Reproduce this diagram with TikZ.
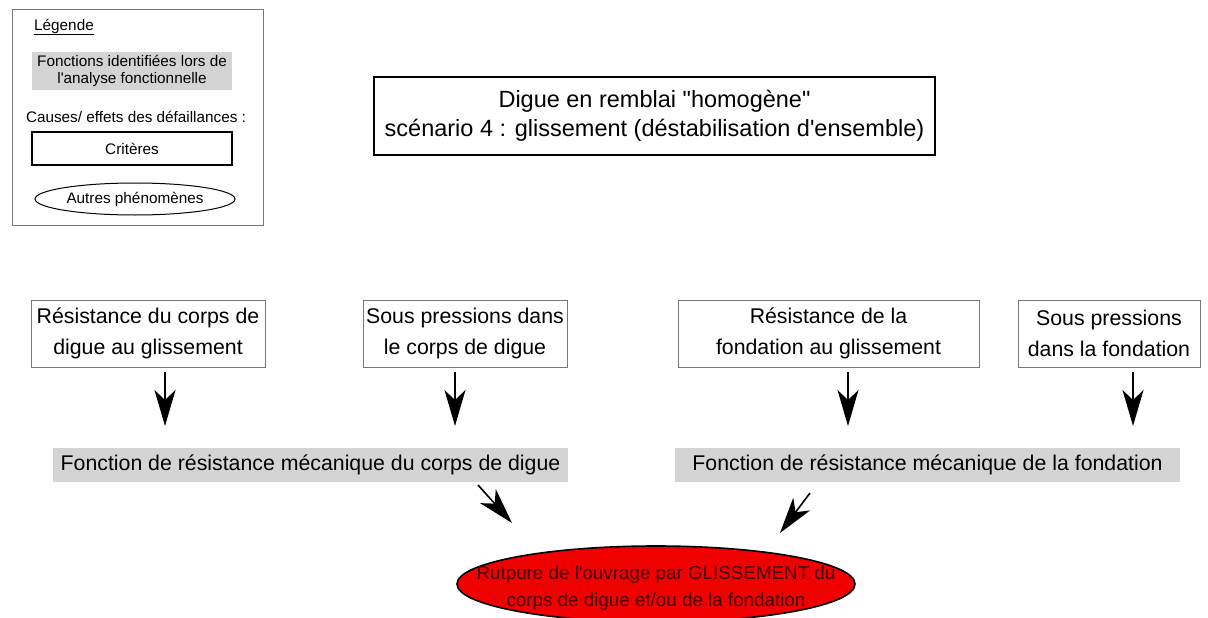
\documentclass[tikz,border=0pt]{standalone}
\usepackage{fontspec}
\setmainfont{Liberation Sans}
\newfontfamily\plainsans{Liberation Sans}
\usetikzlibrary{shapes.geometric,arrows.meta}
\definecolor{boxgray}{RGB}{212,212,212}
\definecolor{edgegray}{RGB}{120,120,120}
\definecolor{alarm}{RGB}{240,0,0}
\definecolor{darkred}{RGB}{70,0,0}
\tikzset{
  critbox/.style={draw=edgegray, line width=1pt, align=center, inner sep=0pt,
    font=\plainsans\fontsize{21.3}{30.5}\selectfont},
  funcbar/.style={fill=boxgray, inner sep=0pt, minimum height=34pt,
    font=\plainsans\fontsize{21.3}{25}\selectfont},
  legtext/.style={inner sep=0pt, font=\plainsans\fontsize{15.3}{16.5}\selectfont},
  bigarrow/.style={line width=1.6pt, -{Stealth[length=36pt,width=21pt,inset=10pt]}},
}
\begin{document}
\begin{tikzpicture}[x=1pt,y=-1pt]
\useasboundingbox (0,0) rectangle (1208,618);
% legend
\node[draw=edgegray, line width=1pt, minimum width=251pt, minimum height=215pt, inner sep=0pt] (legend) at (137.5,117.5) {};
\node[legtext] (legtitle) at (64,27) {\underline{Légende}};
\node[legtext, fill=boxgray, minimum width=200pt, minimum height=38pt, align=center] (leggray) at (132,71) {Fonctions identifiées lors de\\l'analyse fonctionnelle};
\node[legtext] (legcauses) at (136,117) {Causes/ effets des défaillances :};
\node[legtext, draw=black, line width=1.2pt, minimum width=200pt, minimum height=33pt] (legcrit) at (132,148.5) {Critères};
\node[legtext, ellipse, draw=black, line width=1pt, minimum width=200pt, minimum height=32pt] (legell) at (135,199) {Autres phénomènes};
% title
\node[draw=black, line width=1.3pt, minimum width=561pt, minimum height=78pt, inner sep=0pt, align=center,
  font=\plainsans\fontsize{23.5}{29}\selectfont] (title) at (654.5,116)
  {Digue en remblai "homogène"\\scénario 4 : glissement (déstabilisation d'ensemble)};
% criteria boxes
\node[critbox, minimum width=234pt, minimum height=67pt] (A) at (148,333.5) {Résistance du corps de\\digue au glissement};
\node[critbox, minimum width=204pt, minimum height=67pt] (B) at (465,333.5) {Sous pressions dans\\le corps de digue};
\node[critbox, minimum width=301pt, minimum height=67pt] (C) at (828.5,333.5) {Résistance de la\\fondation au glissement};
\node[critbox, minimum width=182pt, minimum height=67pt] (D) at (1109,333.5) {Sous pressions\\dans la fondation};
% function bars
\node[funcbar, minimum width=515pt] (F1) at (310.5,465) {Fonction de résistance mécanique du corps de digue};
\node[funcbar, minimum width=505pt] (F2) at (927.5,465) {Fonction de résistance mécanique de la fondation};
% result
\node[ellipse, fill=alarm, draw=black, line width=1.6pt, minimum width=398pt, minimum height=76pt, inner sep=0pt] (R) at (656,584) {};
\node[align=center, inner sep=0pt, font=\plainsans\fontsize{18.8}{27}\selectfont, text=darkred] (Rtext) at ([yshift=-4pt]R.center)
  {Rutpure de l'ouvrage par GLISSEMENT du\\corps de digue et/ou de la fondation};
% arrow coordinates
\coordinate (a1s) at (165,372); \coordinate (a1e) at (165,426);
\coordinate (a2s) at (455,372); \coordinate (a2e) at (455,426);
\coordinate (a3s) at (848,372); \coordinate (a3e) at (848,426);
\coordinate (a4s) at (1133,372); \coordinate (a4e) at (1133,426);
\coordinate (a5s) at (478,485); \coordinate (a5e) at (512,523);
\coordinate (a6s) at (810,493); \coordinate (a6e) at (780,533);
\draw[bigarrow] (a1s) -- (a1e);
\draw[bigarrow] (a2s) -- (a2e);
\draw[bigarrow] (a3s) -- (a3e);
\draw[bigarrow] (a4s) -- (a4e);
\draw[bigarrow] (a5s) -- (a5e);
\draw[bigarrow] (a6s) -- (a6e);
\end{tikzpicture}
\end{document}
